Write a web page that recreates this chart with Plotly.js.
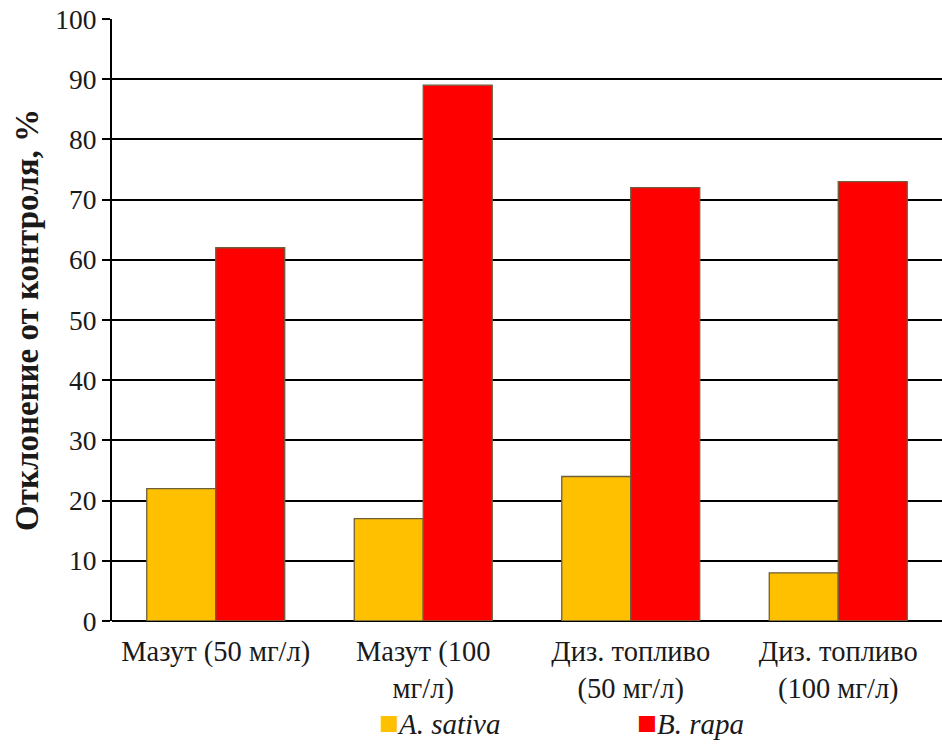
<!DOCTYPE html>
<html>
<head>
<meta charset="utf-8">
<script src="https://cdn.plot.ly/plotly-3.0.1.min.js"></script>
<style>
  html, body { margin: 0; padding: 0; background: #fff; }
  #chart { width: 942px; height: 745px; }
</style>
</head>
<body>
<div id="chart"></div>
<script>
// Treatments (x categories)
const categories = [
  "Мазут (50 мг/л)",
  "Мазут (100<br>мг/л)",
  "Диз. топливо<br>(50 мг/л)",
  "Диз. топливо<br>(100 мг/л)"
];

// Deviation from control, %
const sativaValues = [22, 17, 24, 8];
const rapaValues = [62, 89, 72, 73];

const seriesNames = ["A. sativa", "B. rapa"];
const seriesColors = ["#FFC000", "#FF0000"];
const yTicks = [0, 10, 20, 30, 40, 50, 60, 70, 80, 90, 100];

const serif = "Liberation Serif";
const textColor = "#1a1a1a";
const outline = { color: "rgb(110,95,60)", width: 1.3 };

const traces = [sativaValues, rapaValues].map((vals, i) => ({
  type: "bar",
  name: seriesNames[i],
  x: categories,
  y: vals,
  marker: { color: seriesColors[i], line: outline },
  showlegend: false,
  hoverinfo: "skip"
}));

// Key below the axis: coloured square followed by the italic species name
const keyX = [0.3195, 0.6303];
const keyAnnotations = seriesNames.map((name, i) => ({
  xref: "paper",
  yref: "paper",
  x: keyX[i],
  y: -0.170,
  xanchor: "left",
  yanchor: "middle",
  showarrow: false,
  text: "<span style='color:" + seriesColors[i] + ";font-size:33px'>■</span><i>" + name + "</i>",
  font: { family: serif, size: 29, color: textColor }
}));

const layout = {
  width: 942,
  height: 745,
  margin: { l: 112, r: 0, t: 19, b: 124 },
  paper_bgcolor: "#fff",
  plot_bgcolor: "#fff",
  font: { family: serif, size: 27, color: textColor },
  barmode: "group",
  bargap: 0.335,
  bargroupgap: 0,
  annotations: keyAnnotations,
  xaxis: {
    type: "category",
    range: [-0.5, 3.5],
    showgrid: false,
    showline: false,
    ticks: "",
    ticklabelstandoff: 10,
    tickfont: { family: serif, size: 28.5, color: textColor },
    fixedrange: true
  },
  yaxis: {
    range: [0, 100],
    tickvals: yTicks,
    ticktext: yTicks.map(String),
    showgrid: true,
    gridcolor: "#000",
    gridwidth: 2,
    zeroline: true,
    zerolinecolor: "#000",
    zerolinewidth: 2,
    showline: true,
    linecolor: "#000",
    linewidth: 2,
    ticks: "outside",
    ticklen: 8,
    tickwidth: 2,
    tickcolor: "#000",
    tickfont: { family: serif, size: 27.5, color: textColor },
    title: {
      text: "<b>Отклонение от контроля, %</b>",
      font: { family: serif, size: 33, color: textColor },
      standoff: 7
    },
    fixedrange: true
  }
};

Plotly.newPlot("chart", traces, layout, { displayModeBar: false, staticPlot: true });
</script>
</body>
</html>
